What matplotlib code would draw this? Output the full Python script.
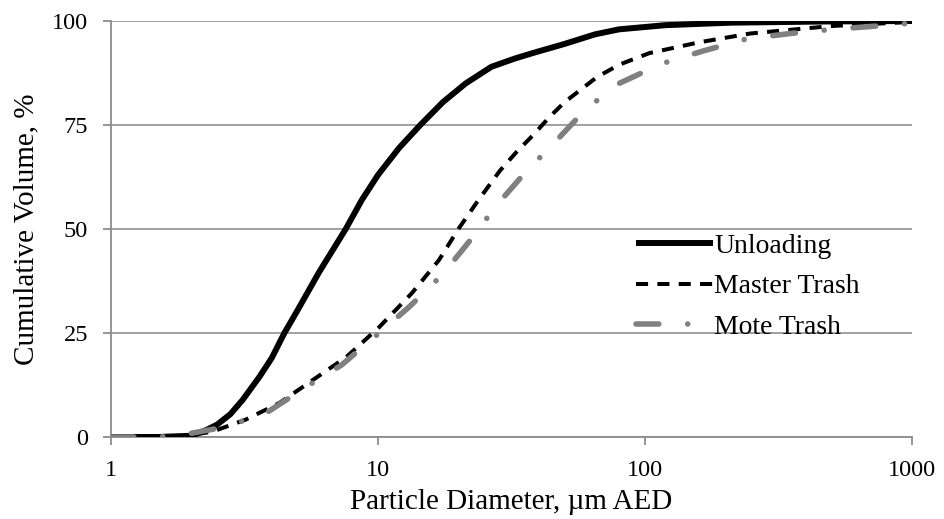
import matplotlib
matplotlib.use("Agg")
import matplotlib.pyplot as plt

plt.rcParams['font.family'] = ['Liberation Serif', 'DejaVu Serif']

# Particle diameter (um) and cumulative volume (%)
unload_d = [1, 1.5, 2, 2.28, 2.5, 2.8, 3.11, 3.6, 4.0, 4.46, 5, 6, 7.57, 8.7, 10, 12,
            14.4, 17.5, 21.3, 26.6, 32.6, 38, 50, 65, 80, 119, 209, 493, 1000]
unload_v = [0, 0, 0.3, 1.7, 3, 5.5, 8.9, 14.5, 19, 25, 30.5, 39.5, 50, 57, 63, 69.5,
            75, 80.5, 85, 89, 91, 92.3, 94.5, 96.8, 98, 99, 99.6, 99.9, 100]

master_d = [1, 1.5, 1.8, 2.4, 3.2, 4.28, 5.7, 7.6, 10.1, 13.4, 16.9, 20, 23.8, 28.6,
            33, 38, 44, 50, 66, 80, 104, 160, 248, 500, 1000]
master_v = [0, 0, 0, 1.3, 4.2, 8.2, 13.7, 19.2, 26.4, 34.6, 42.5, 50, 57, 64,
            68.5, 72.5, 77, 80.5, 86.5, 89.5, 92.3, 94.9, 97, 98.8, 99.8]

mote_d = [1, 1.5, 1.89, 2.71, 3.86, 5.37, 7.3, 10.1, 13.1, 17.4, 21.9, 25.5, 29.6,
          35.5, 46.8, 60, 80, 115, 165, 240, 350, 505, 740, 1000]
mote_v = [0, 0, 0.6, 2.5, 6, 12, 17.3, 25, 31.3, 39, 46.9, 52.5, 57.7,
          63.5, 71.4, 78.8, 85, 89.7, 92.8, 95.7, 97, 98, 98.8, 99.5]

y_ticks = [0, 25, 50, 75, 100]
x_ticks = [1, 10, 100, 1000]
x_labels = ['1', '10', '100', '1000']

fig = plt.figure(figsize=(9.44, 5.19), dpi=100)
ax = fig.add_axes([0.1176, 0.158, 0.8485, 0.8015])

ax.plot(unload_d, unload_v, color='black', lw=4.3, solid_capstyle='butt',
        solid_joinstyle='round', label='Unloading', zorder=3)
ax.plot(master_d, master_v, color='black', lw=2.9, dashes=(3.0, 2.3),
        dash_capstyle='butt', label='Master Trash', zorder=4)
ax.plot(mote_d, mote_v, color='#808080', lw=4.0, dashes=(4.1, 5.2, 0.01, 5.2),
        dash_capstyle='round', label='Mote Trash', zorder=5)

ax.set_xscale('log')
ax.set_xlim(1, 1000)
ax.set_ylim(0, 100)
ax.set_xticks(x_ticks)
ax.set_xticklabels(x_labels)
ax.minorticks_off()
ax.set_yticks(y_ticks)

ax.grid(axis='y', color='#9a9a9a', lw=1.3)
ax.set_axisbelow(True)
for s in ['top', 'right']:
    ax.spines[s].set_visible(False)
for s in ['left', 'bottom']:
    ax.spines[s].set_color('#8c8c8c')
    ax.spines[s].set_linewidth(1.3)
ax.tick_params(axis='both', colors='#8c8c8c', length=5.5, width=1.3, labelsize=17.5,
               labelcolor='black')
ax.tick_params(axis='x', pad=11)
ax.tick_params(axis='y', pad=11)

ax.set_xlabel('Particle Diameter, µm AED', fontsize=21, labelpad=6)
ax.set_ylabel('Cumulative Volume, %', fontsize=21, labelpad=9)

leg = ax.legend(loc='upper left', bbox_to_anchor=(0.656, 0.49), frameon=False,
                fontsize=20, handlelength=2.75, handletextpad=0.05,
                labelspacing=0.55, borderaxespad=0, borderpad=0)

fig.savefig('out.png', dpi=100)
